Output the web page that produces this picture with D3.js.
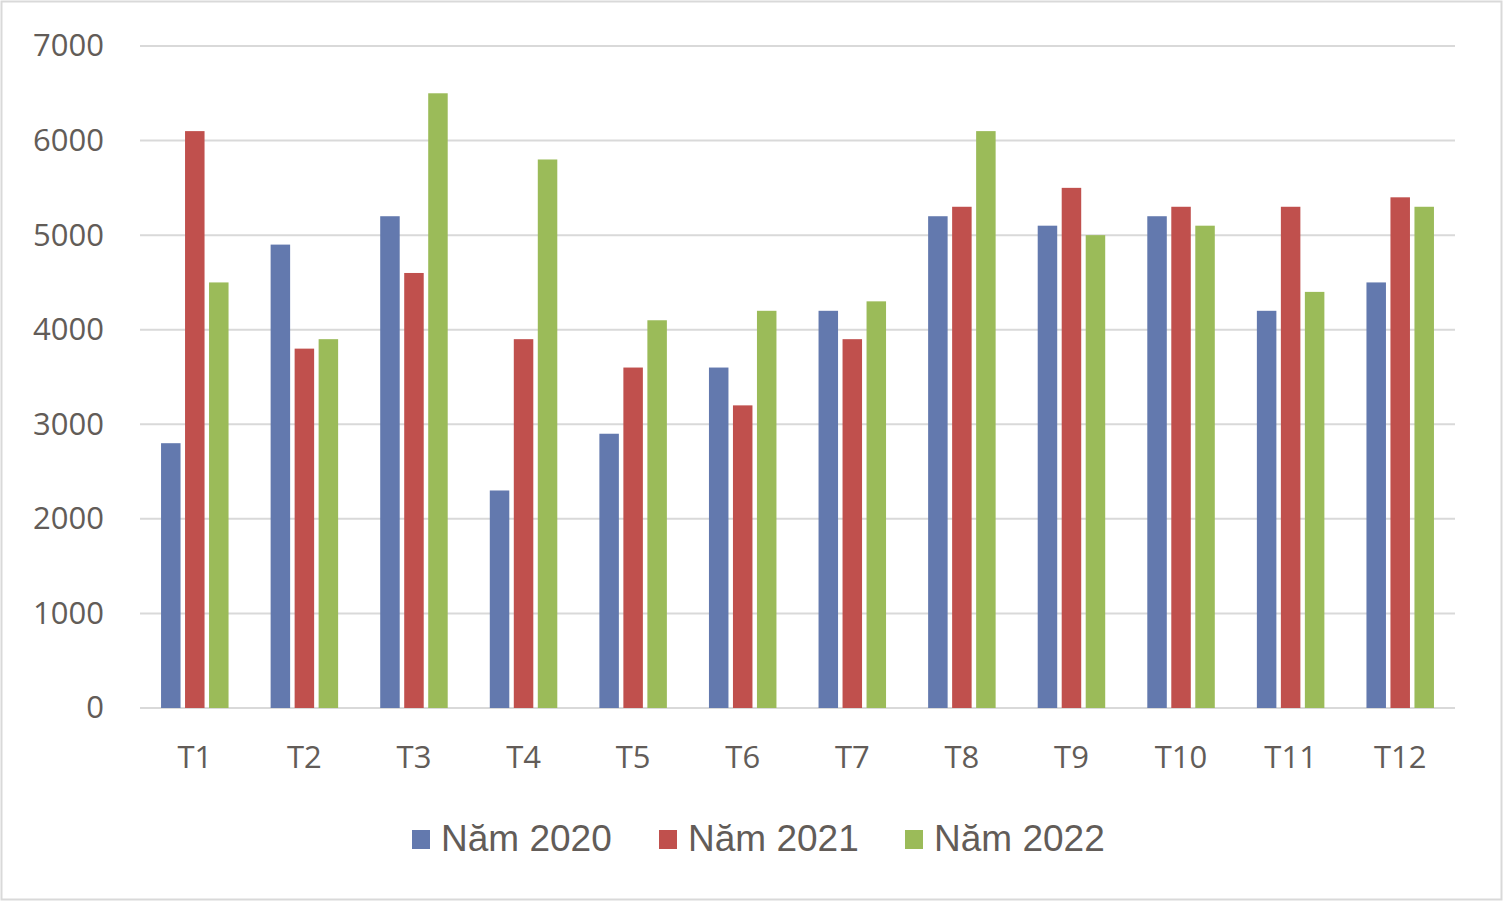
<!DOCTYPE html>
<html>
<head>
<meta charset="utf-8">
<script src="https://cdn.jsdelivr.net/npm/d3@7"></script>
<style>
  body { margin: 0; background: #fff; }
</style>
</head>
<body>
<div id="chart"></div>
<script>
const months = ['T1', 'T2', 'T3', 'T4', 'T5', 'T6', 'T7', 'T8', 'T9', 'T10', 'T11', 'T12'];
const seriesNames = ['Năm 2020', 'Năm 2021', 'Năm 2022'];
const values2020 = [2800, 4900, 5200, 2300, 2900, 3600, 4200, 5200, 5100, 5200, 4200, 4500];
const values2021 = [6100, 3800, 4600, 3900, 3600, 3200, 3900, 5300, 5500, 5300, 5300, 5400];
const values2022 = [4500, 3900, 6500, 5800, 4100, 4200, 4300, 6100, 5000, 5100, 4400, 5300];
const yTicks = [0, 1000, 2000, 3000, 4000, 5000, 6000, 7000];

const colors = ['#6379ae', '#c0504d', '#9bbb59'];
const allSeries = [values2020, values2021, values2022];

const totalWidth = 1504;
const totalHeight = 903;
const leftMargin = 140;
const rightMargin = 49;
const topMargin = 46;
const plotHeight = 708 - topMargin;
const plotWidth = totalWidth - leftMargin - rightMargin;

const svg = d3.select('#chart')
    .append('svg')
    .attr('width', totalWidth)
    .attr('height', totalHeight);

// outer border
svg.append('rect')
    .attr('x', 1.5).attr('y', 1.5)
    .attr('width', totalWidth - 4).attr('height', totalHeight - 5)
    .attr('fill', 'none')
    .attr('stroke', '#d9d9d9')
    .attr('stroke-width', 2);

const g = svg.append('g')
    .attr('transform', `translate(${leftMargin},${topMargin})`);

const xScale = d3.scaleBand()
    .domain(months)
    .range([0, plotWidth]);

const yScale = d3.scaleLinear()
    .domain([0, 7000])
    .range([plotHeight, 0]);

const barWidth = 19.5;
const barStep = 24;
const xInner = d3.scaleBand()
    .domain(seriesNames)
    .range([-barStep * 1.5, barStep * 1.5]);

// gridlines
g.append('g')
    .selectAll('line')
    .data(yTicks)
    .enter()
    .append('line')
    .attr('x1', 0)
    .attr('x2', plotWidth)
    .attr('y1', d => yScale(d))
    .attr('y2', d => yScale(d))
    .attr('stroke', '#d9d9d9')
    .attr('stroke-width', 2);

// bars
seriesNames.forEach((name, i) => {
    g.append('g')
        .selectAll('rect')
        .data(allSeries[i])
        .enter()
        .append('rect')
        .attr('x', (d, j) => xScale(months[j]) + xScale.bandwidth() / 2 + xInner(name) + (barStep - barWidth) / 2)
        .attr('y', d => yScale(d))
        .attr('width', barWidth)
        .attr('height', d => plotHeight - yScale(d))
        .attr('fill', colors[i]);
});

// y axis labels
const yAxis = g.append('g')
    .call(d3.axisLeft(yScale).tickValues(yTicks).tickFormat(d3.format('d')).tickSize(0).tickPadding(36));
yAxis.select('.domain').remove();
yAxis.selectAll('text')
    .style('font-family', '"Open Sans", sans-serif')
    .style('font-size', '31px')
    .attr('fill', '#625c58');

// x axis labels
const xAxis = g.append('g')
    .attr('transform', `translate(0,${plotHeight})`)
    .call(d3.axisBottom(xScale).tickSize(0).tickPadding(38));
xAxis.select('.domain').remove();
xAxis.selectAll('text')
    .style('font-family', '"Open Sans", sans-serif')
    .style('font-size', '31px')
    .attr('fill', '#625c58');

// legend
const legendX = [412, 659, 905];
const legend = svg.append('g');
seriesNames.forEach((name, i) => {
    legend.append('rect')
        .attr('x', legendX[i])
        .attr('y', 830)
        .attr('width', 18)
        .attr('height', 19)
        .attr('fill', colors[i]);
    legend.append('text')
        .attr('x', legendX[i] + 29)
        .attr('y', 851)
        .style('font-family', '"Liberation Sans", Arial, sans-serif')
        .style('font-size', '37px')
        .attr('fill', '#625c58')
        .text(name);
});
</script>
</body>
</html>
